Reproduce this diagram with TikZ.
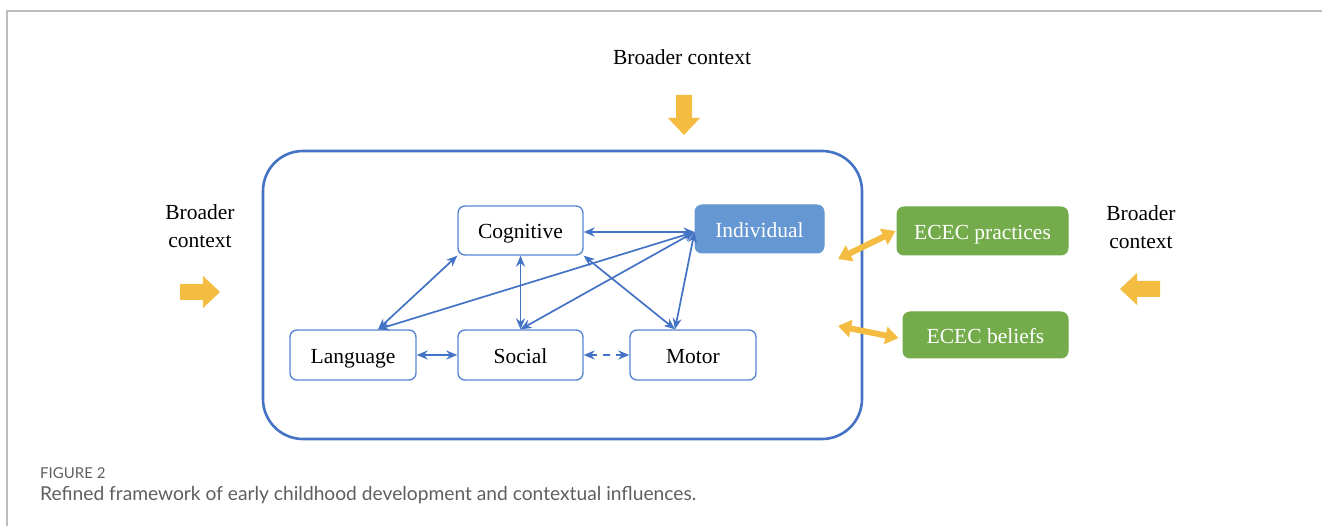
\documentclass[tikz,border=0pt]{standalone}
\usepackage{fontspec}
\setmainfont{Liberation Serif}
\newfontfamily\capfont{Lato}
\usetikzlibrary{arrows.meta,positioning,calc}
\definecolor{bluel}{HTML}{4472C4}
\definecolor{boxb}{HTML}{5A88D0}
\definecolor{indfill}{HTML}{6598D2}
\definecolor{grn}{HTML}{74AC4C}
\definecolor{yel}{HTML}{F5BC42}
\definecolor{framegray}{HTML}{BDBDBD}
\definecolor{capgray}{HTML}{5F5F5F}
\tikzset{
  dombox/.style={draw=boxb, line width=1.4pt, fill=white, rounded corners=7pt, inner sep=0pt, text height=17pt, text depth=0pt, font=\fontsize{21.5}{25}\selectfont},
  indbox/.style={draw=indfill, line width=1pt, fill=indfill, text=white, rounded corners=7pt, inner sep=0pt, text height=17pt, text depth=0pt, font=\fontsize{21.5}{25}\selectfont},
  grnbox/.style={draw=grn, line width=1pt, fill=grn, text=white, rounded corners=7pt, inner sep=0pt, text height=17pt, text depth=0pt, font=\fontsize{21.5}{25}\selectfont},
  ctxtext/.style={align=center, font=\fontsize{21.5}{28}\selectfont, inner sep=0pt},
  link/.style={draw=bluel, line width=1.7pt, {Stealth[length=11pt,width=9pt]}-{Stealth[length=11pt,width=9pt]}},
  yarrow/.style={draw=yel, line width=6pt, {Triangle[length=13pt,width=17pt]}-{Triangle[length=13pt,width=17pt]}},
  blockarrow/.pic={\fill[yel] (-20,-8) -- (3,-8) -- (3,-16) -- (20,0) -- (3,16) -- (3,8) -- (-20,8) -- cycle;}
}
\begin{document}
\begin{tikzpicture}[x=1pt,y=-1pt]
\useasboundingbox (0,0) rectangle (1322,526);
\fill[white] (0,0) rectangle (1322,526);
% page frame
\draw[framegray, line width=1.5pt] (7,526) -- (7,11) -- (1322,11);

% big framework box
\node[draw=bluel, line width=2.6pt, rounded corners=40pt, minimum width=599pt, minimum height=288pt, inner sep=0pt] (dev) at (562.5,295) {};

% context labels and arrows
\node[ctxtext] (ctxtop) at (682,57) {Broader context};
\pic[rotate=-90] (arrtop) at (684,115) {blockarrow};
\node[ctxtext] (ctxleft) at (200,226) {Broader\\context};
\pic (arrleft) at (200,292) {blockarrow};
\node[ctxtext] (ctxright) at (1141,227) {Broader\\context};
\pic[rotate=180] (arrright) at (1140,289) {blockarrow};

% domain nodes
\node[dombox, minimum width=125pt, minimum height=49pt] (cog) at (520.5,230.5) {Cognitive};
\node[indbox, minimum width=129pt, minimum height=48pt] (ind) at (759.5,229) {Individual};
\node[dombox, minimum width=126pt, minimum height=50pt] (lang) at (353,355) {Language};
\node[dombox, minimum width=125pt, minimum height=50pt] (soc) at (520.5,355) {Social};
\node[dombox, minimum width=126pt, minimum height=50pt] (mot) at (693,355) {Motor};

% ECEC nodes
\node[grnbox, minimum width=171pt, minimum height=48pt] (prac) at (982.5,231) {ECEC practices};
\node[grnbox, minimum width=165pt, minimum height=46pt] (bel) at (985.5,335) {ECEC beliefs};

% blue links
\coordinate (indpt) at ([yshift=-3pt]ind.west);
\coordinate (langtop) at ([xshift=25pt]lang.north);
\coordinate (mottop) at ([xshift=-18pt]mot.north);
\draw[link] (cog.east |- indpt) -- (indpt);
\draw[link] (langtop) -- (cog.south west);
\draw[link] (langtop) -- (indpt);
\draw[link] (soc.north) -- (indpt);
\draw[link] (indpt) -- (mottop);
\draw[link] (cog.south east) -- (mottop);
\draw[link] (cog.south) -- (soc.north);
\draw[link] (lang.east) -- (soc.west);
\draw[link, dashed, dash pattern=on 7pt off 6pt] (soc.east) -- (mot.west);

% yellow double arrows
\coordinate (yp) at (838,259);
\coordinate (yb) at (838,326);
\draw[yarrow] (yp) -- ([xshift=-1pt]prac.west);
\draw[yarrow] (yb) -- ([xshift=-4pt,yshift=-3pt]bel.west);

% caption
\node[anchor=base west, inner sep=0pt, text=capgray, font=\capfont\fontsize{15}{17}\selectfont] (fig) at (40,478) {FIGURE 2};
\node[anchor=base west, inner sep=0pt, text=capgray, font=\capfont\fontsize{19.2}{21}\selectfont] (cap) at (40,500) {Refined framework of early childhood development and contextual influences.};
\end{tikzpicture}
\end{document}
